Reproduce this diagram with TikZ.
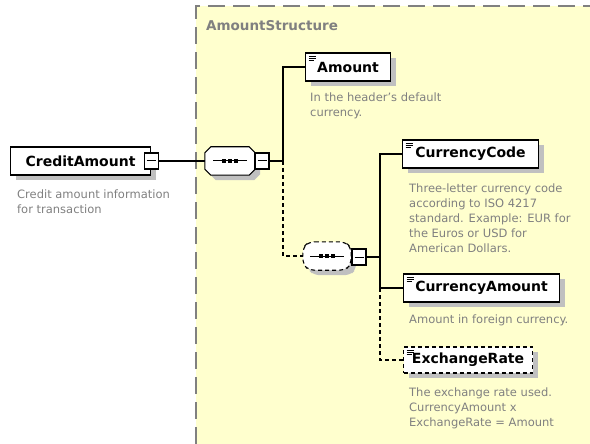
\documentclass[tikz,border=0pt]{standalone}
\usepackage{fontspec}
\setmainfont{DejaVu Sans}
\usetikzlibrary{shadows}
\definecolor{xsdyellow}{RGB}{255,255,206}
\definecolor{xsdgray}{RGB}{128,128,128}
\definecolor{xsdshadow}{RGB}{192,192,192}

\tikzset{
  boxshadow/.style={drop shadow={shadow xshift=5pt,shadow yshift=-5pt,fill=xsdshadow,opacity=1}},
  opt/.style={dash pattern=on 4pt off 3pt},
  conn/.style={line width=1.1pt},
  elem/.style={draw,line width=1.1pt,fill=white,boxshadow,minimum height=28,inner sep=0pt,
    font=\fontsize{14}{16}\selectfont\bfseries},
  leaf/.style={path picture={
    \draw[solid,line width=0.6pt] ([shift={(3,3)}]path picture bounding box.north west) -- ++(7,0)
      ([shift={(3,5)}]path picture bounding box.north west) -- ++(7,0)
      ([shift={(3,7)}]path picture bounding box.north west) -- ++(5,0);}},
  collapse/.style={draw,solid,line width=1.1pt,fill=white,minimum width=14,minimum height=16,inner sep=0pt,
    drop shadow={shadow xshift=1pt,shadow yshift=-1pt,fill=black,opacity=1},
    path picture={\draw[line width=1pt] ([xshift=-4.5pt]path picture bounding box.center) -- ++(9,0);}},
  seqslot/.style={minimum width=50,minimum height=28,inner sep=0pt},
  seqline/.style={draw,line width=1.1pt,fill=white,boxshadow},
  desc/.style={anchor=base west,align=left,inner sep=0pt,text=xsdgray,font=\fontsize{11.5}{15}\selectfont}
}

% octagon of a sequence compositor round a named slot
\newcommand\seqbody[2]{%
  \draw[seqline,#2] ([xshift=6]#1.north west) -- ([xshift=-6]#1.north east)
    -- ([yshift=-6]#1.north east) -- ([yshift=6]#1.south east)
    -- ([xshift=-6]#1.south east) -- ([xshift=6]#1.south west)
    -- ([yshift=6]#1.south west) -- ([yshift=-6]#1.north west) -- cycle;
  \draw[line width=1pt] ([xshift=-17]#1.center) -- ([xshift=17]#1.center);
  \foreach \d in {-6,0,6}
    \fill ([shift={(\d-1.8,-1.8)}]#1.center) rectangle ++(3.6,3.6);}

\begin{document}
\begin{tikzpicture}[x=1pt,y=-1pt]
  \useasboundingbox (0,0) rectangle (590,444);
  % complex type area
  \fill[xsdyellow] (196,6) rectangle (590,444);
  \draw[xsdgray,line width=1.2pt,dash pattern=on 17pt off 8pt] (196,444) -- (196,6) -- (590,6);
  \node[anchor=base west,inner sep=0pt,text=xsdgray,font=\fontsize{13.5}{15}\selectfont\bfseries] (title) at (206,31) {AmountStructure};

  % root element
  \node[elem,minimum width=140,anchor=west] (credit) at (10,161) {CreditAmount};
  \node[collapse] (creditmin) at (credit.east) {};
  \node[desc] (creditdesc) at (17,213) {Credit amount information\\for transaction};

  % sequences
  \node[seqslot] (seqA) at (230,161) {};
  \seqbody{seqA}{}
  \node[collapse] (seqAmin) at (262,161) {};
  \node[seqslot,minimum width=48] (seqB) at (327,256) {};
  \seqbody{seqB}{opt,rounded corners=6pt}
  \node[collapse] (seqBmin) at (359,257) {};

  % child elements
  \node[elem,leaf,minimum width=85,anchor=west] (amount) at (305,67) {Amount};
  \node[desc] (amountdesc) at (310,117) {In the header's default\\currency.};
  \node[elem,leaf,minimum width=136,anchor=west] (ccode) at (402,154) {CurrencyCode};
  \node[desc] (ccodedesc) at (409,252) {Three-letter currency code\\according to ISO 4217\\standard. Example: EUR for\\the Euros or USD for\\American Dollars.};
  \node[elem,leaf,minimum width=156,anchor=west] (camount) at (403,288) {CurrencyAmount};
  \node[desc] (camountdesc) at (409,323) {Amount in foreign currency.};
  \node[elem,leaf,opt,minimum width=129,minimum height=26,anchor=west] (xrate) at (403,360) {ExchangeRate};
  \node[desc] (xratedesc) at (409,426) {The exchange rate used.\\CurrencyAmount x\\ExchangeRate = Amount};

  % connectors
  \coordinate (barA) at (283,161);
  \coordinate (barB) at (380,257);
  \draw[conn] (creditmin.east) -- (seqA.west);
  \draw[conn] (seqAmin.east) -- (barA) |- (amount.west);
  \draw[conn,opt] (barA) |- (seqB.west);
  \draw[conn] (seqBmin.east) -- (barB);
  \draw[conn] (ccode.west) -| (barB) |- (camount.west);
  \coordinate (barC) at (camount.west -| barB);
  \draw[conn,opt] (barC) |- (xrate.west);
\end{tikzpicture}
\end{document}
